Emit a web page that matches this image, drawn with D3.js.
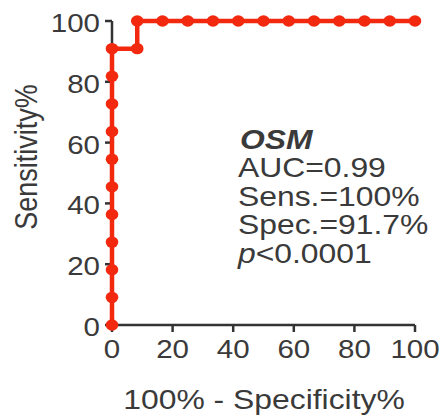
<!DOCTYPE html>
<html>
<head>
<meta charset="utf-8">
<script src="https://cdn.jsdelivr.net/npm/d3@7"></script>
<style>
  body { margin: 0; background: #fff; }
  text { font-family: "Liberation Sans", Arial, sans-serif; fill: #3a3a3a; }
</style>
</head>
<body>
<script>
// ROC points, 100% - specificity (x) and sensitivity (y)
var fpr = [0, 0, 0, 0, 0, 0, 0, 0, 0, 0, 0, 8.33, 8.33, 16.67, 25, 33.33, 41.67, 50, 58.33, 66.67, 75, 83.33, 91.67, 100];
var tpr = [0, 9.09, 18.18, 27.27, 36.36, 45.45, 54.55, 63.64, 72.73, 81.82, 90.91, 90.91, 100, 100, 100, 100, 100, 100, 100, 100, 100, 100, 100, 100];
var xTicks = [0, 20, 40, 60, 80, 100];
var yTicks = [0, 20, 40, 60, 80, 100];
var statLines = ["AUC=0.99", "Sens.=100%", "Spec.=91.7%"];

var width = 443, height = 419;
var sx = 1.18; // the picture is a little wider than plain Arial

var svg = d3.select("body").append("svg")
  .attr("width", width)
  .attr("height", height);

var x = d3.scaleLinear().domain([0, 100]).range([112, 415]);
var y = d3.scaleLinear().domain([0, 100]).range([325, 21]);

var red = "#f2290f";

// axes
svg.append("line")
  .attr("x1", x(0)).attr("x2", x(100))
  .attr("y1", y(0)).attr("y2", y(0))
  .attr("stroke", "#333").attr("stroke-width", 2.5);
svg.append("line")
  .attr("x1", x(0)).attr("x2", x(0))
  .attr("y1", y(0)).attr("y2", y(100))
  .attr("stroke", "#333").attr("stroke-width", 2.5);

xTicks.forEach(function(t) {
  svg.append("line")
    .attr("x1", x(t)).attr("x2", x(t))
    .attr("y1", y(0)).attr("y2", y(0) + 7)
    .attr("stroke", "#333").attr("stroke-width", 2.5);
  svg.append("text")
    .attr("transform", "translate(" + x(t) + "," + 358 + ") scale(" + sx + ",1)")
    .attr("text-anchor", "middle")
    .style("font-size", "25px")
    .text(t);
});

yTicks.forEach(function(t) {
  svg.append("line")
    .attr("x1", x(0) - 7).attr("x2", x(0))
    .attr("y1", y(t)).attr("y2", y(t))
    .attr("stroke", "#333").attr("stroke-width", 2.5);
  svg.append("text")
    .attr("transform", "translate(" + 100 + "," + (y(t) + 11) + ") scale(" + sx + ",1)")
    .attr("text-anchor", "end")
    .style("font-size", "25px")
    .text(t);
});

// axis titles
svg.append("text")
  .attr("transform", "translate(" + 264 + "," + 409 + ") scale(" + sx + ",1)")
  .attr("text-anchor", "middle")
  .style("font-size", "27px")
  .text("100% - Specificity%");

svg.append("text")
  .attr("transform", "translate(" + 37 + "," + 157 + ") scale(" + sx + ",1) rotate(-90)")
  .attr("text-anchor", "middle")
  .style("font-size", "27px")
  .text("Sensitivity%");

// ROC curve
var pts = fpr.map(function(d, i) { return [d, tpr[i]]; });
var line = d3.line()
  .x(function(d) { return x(d[0]); })
  .y(function(d) { return y(d[1]); });

svg.append("path")
  .datum(pts)
  .attr("d", line)
  .attr("fill", "none")
  .attr("stroke", red)
  .attr("stroke-width", 4.5);

svg.selectAll(".dot")
  .data(pts)
  .enter().append("ellipse")
  .attr("class", "dot")
  .attr("cx", function(d) { return x(d[0]); })
  .attr("cy", function(d) { return y(d[1]); })
  .attr("rx", 6.3)
  .attr("ry", 5.7)
  .attr("fill", red);

// stats text
svg.append("text")
  .attr("transform", "translate(" + 240 + "," + 149 + ") scale(" + sx + ",1)")
  .style("font-size", "27px")
  .style("font-weight", "bold")
  .style("font-style", "italic")
  .text("OSM");

statLines.forEach(function(s, i) {
  svg.append("text")
    .attr("transform", "translate(" + 238 + "," + (177 + i * 28.7) + ") scale(" + sx + ",1)")
    .style("font-size", "27px")
    .text(s);
});

var p = svg.append("text")
  .attr("transform", "translate(" + 238 + "," + 263 + ") scale(" + sx + ",1)")
  .style("font-size", "27px");
p.append("tspan").style("font-style", "italic").text("p");
p.append("tspan").text("<0.0001");
</script>
</body>
</html>
